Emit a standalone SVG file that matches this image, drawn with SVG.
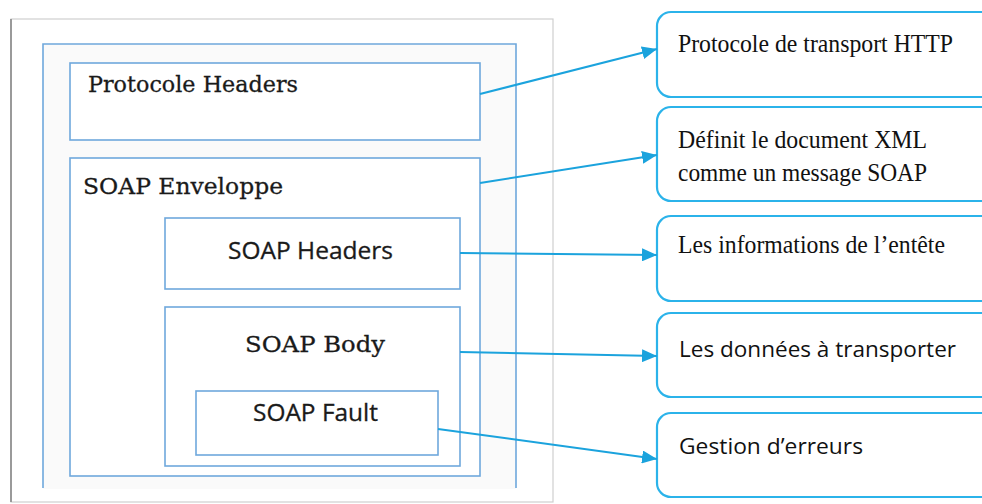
<svg xmlns="http://www.w3.org/2000/svg" width="982" height="504" viewBox="0 0 982 504">
  <style>
    .frame { fill: none; stroke: #6fa8dc; stroke-width: 1.6; }
    .box { fill: #ffffff; stroke: #6fa8dc; stroke-width: 1.6; }
    .note { fill: #ffffff; stroke: #2bb3ea; stroke-width: 2.2; }
    .link { fill: none; stroke: #1ba3dd; stroke-width: 2; marker-end: url(#head); }
    .serif { font-family: "DejaVu Serif", "Liberation Serif", serif; font-size: 23px; fill: #1a1a1a; stroke: #1a1a1a; stroke-width: 0.3; }
    .sans { font-family: "Open Sans", "Noto Sans", sans-serif; font-size: 23px; fill: #1a1a1a; stroke: #1a1a1a; stroke-width: 0.3; }
    .times { font-family: "Liberation Serif", "Times New Roman", serif; font-size: 25px; fill: #111111; }
    .sansR { font-family: "Open Sans", "Noto Sans", sans-serif; font-size: 22px; fill: #111111; }
  </style>
  <defs>
    <marker id="head" markerUnits="userSpaceOnUse" markerWidth="15" markerHeight="13" refX="15" refY="6.5" orient="auto">
      <path d="M0,0 L15,6.5 L0,13 Z" fill="#1ba3dd"/>
    </marker>
  </defs>

  <rect width="982" height="504" fill="#ffffff"/>

  <!-- page frame with shaded left edge -->
  <g id="page">
    <rect x="11" y="19" width="542" height="483" fill="#ffffff" stroke="#cfcfcf" stroke-width="1.2"/>
    <line x1="11" y1="19" x2="11" y2="502" stroke="#9a9a9a" stroke-width="2"/>
  </g>

  <!-- message frame, open at the bottom -->
  <g id="message">
    <rect x="43" y="44" width="473" height="445" fill="#fafafa"/>
    <path class="frame" d="M43,488 L43,44 L516,44 L516,488"/>
  </g>

  <g id="protocol-headers">
    <rect class="box" x="70" y="63" width="410" height="77"/>
    <text class="serif" x="88" y="92" textLength="210" lengthAdjust="spacingAndGlyphs">Protocole Headers</text>
  </g>

  <g id="soap-envelope">
    <rect class="box" x="70" y="158" width="410" height="318"/>
    <text class="serif" x="83" y="194" textLength="200" lengthAdjust="spacingAndGlyphs">SOAP Enveloppe</text>
  </g>

  <g id="soap-headers">
    <rect class="box" x="165" y="218" width="295" height="71"/>
    <text class="sans" x="228" y="259" textLength="165" lengthAdjust="spacingAndGlyphs">SOAP Headers</text>
  </g>

  <g id="soap-body">
    <rect class="box" x="165" y="307" width="295" height="159"/>
    <text class="serif" x="245" y="352" textLength="140" lengthAdjust="spacingAndGlyphs">SOAP Body</text>
  </g>

  <g id="soap-fault">
    <rect class="box" x="196" y="391" width="242" height="64"/>
    <text class="sans" x="253" y="421" textLength="125" lengthAdjust="spacingAndGlyphs">SOAP Fault</text>
  </g>

  <!-- description notes -->
  <g id="note-http">
    <rect class="note" x="657" y="12" width="360" height="85" rx="14"/>
    <text class="times" x="678" y="52" textLength="275" lengthAdjust="spacingAndGlyphs">Protocole de transport HTTP</text>
  </g>

  <g id="note-envelope">
    <rect class="note" x="657" y="107" width="360" height="94" rx="14"/>
    <text class="times" x="678" y="148" textLength="249" lengthAdjust="spacingAndGlyphs">Définit le document XML</text>
    <text class="times" x="678" y="181" textLength="249" lengthAdjust="spacingAndGlyphs">comme un message SOAP</text>
  </g>

  <g id="note-headers">
    <rect class="note" x="657" y="216" width="360" height="85" rx="14"/>
    <text class="times" x="678" y="253" textLength="267" lengthAdjust="spacingAndGlyphs">Les informations de l’entête</text>
  </g>

  <g id="note-body">
    <rect class="note" x="657" y="313" width="360" height="84" rx="14"/>
    <text class="sansR" x="679" y="357" textLength="277" lengthAdjust="spacingAndGlyphs">Les données à transporter</text>
  </g>

  <g id="note-fault">
    <rect class="note" x="657" y="413" width="360" height="84" rx="14"/>
    <text class="sansR" x="679" y="454" textLength="184" lengthAdjust="spacingAndGlyphs">Gestion d’erreurs</text>
  </g>

  <!-- connectors -->
  <g id="connectors">
    <line class="link" x1="480" y1="94" x2="657" y2="49"/>
    <line class="link" x1="480" y1="183" x2="657" y2="155"/>
    <line class="link" x1="460" y1="253" x2="657" y2="255"/>
    <line class="link" x1="460" y1="352" x2="657" y2="356"/>
    <line class="link" x1="438" y1="429" x2="657" y2="459"/>
  </g>
</svg>
